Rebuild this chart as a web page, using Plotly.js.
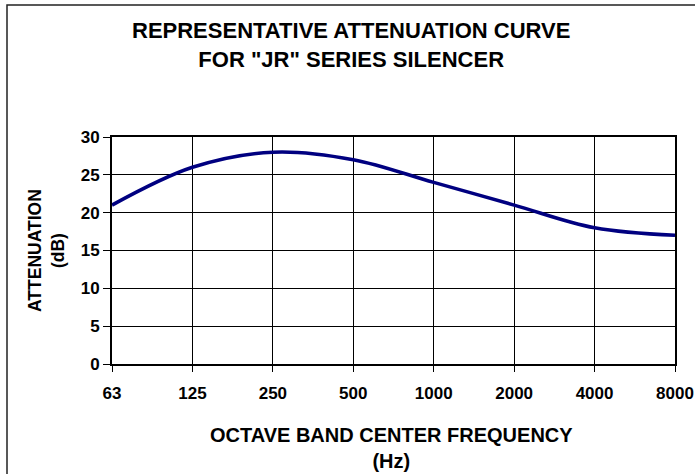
<!DOCTYPE html>
<html>
<head>
<meta charset="utf-8">
<script src="https://cdn.plot.ly/plotly-3.0.1.min.js"></script>
<style>
html,body{margin:0;padding:0;background:#fff;}
#chart{width:695px;height:474px;}
</style>
</head>
<body>
<div id="chart"></div>
<script>
// Data
const frequencies = ["63", "125", "250", "500", "1000", "2000", "4000", "8000"];
const attenuation = [21, 26, 28, 27, 24, 21, 18, 17];
const yTicks = [0, 5, 10, 15, 20, 25, 30];
const chartTitle = 'REPRESENTATIVE ATTENUATION CURVE<br>FOR "JR" SERIES SILENCER';
const xTitle = 'OCTAVE BAND CENTER FREQUENCY<br>(Hz)';
const yTitle = 'ATTENUATION<br>(dB)';

const FONT = "Liberation Sans, Arial, Helvetica, sans-serif";
const W = 695, H = 474;
const M = {l: 112, r: 20, t: 137, b: 110};
const pw = W - M.l - M.r, ph = H - M.t - M.b;
const px = x => (x - M.l) / pw;
const py = y => (H - M.b - y) / ph;

const trace = {
  x: frequencies,
  y: attenuation,
  type: 'scatter',
  mode: 'lines',
  line: {color: '#000080', width: 3.5, shape: 'spline', smoothing: 1},
  hoverinfo: 'skip'
};

const layout = {
  width: W, height: H,
  margin: M,
  paper_bgcolor: '#ffffff',
  plot_bgcolor: '#ffffff',
  showlegend: false,
  title: {text: ''},
  xaxis: {
    type: 'category',
    range: [0, frequencies.length - 1],
    showgrid: true, gridcolor: '#000', gridwidth: 1,
    showline: true, linecolor: '#000', linewidth: 2, mirror: true,
    ticks: 'outside', ticklen: 6, tickcolor: '#000', tickwidth: 1,
    ticklabelstandoff: 7,
    tickfont: {family: FONT, size: 17, color: '#000', weight: 'bold'},
    zeroline: false, fixedrange: true
  },
  yaxis: {
    range: [0, 30],
    tickvals: yTicks,
    showgrid: true, gridcolor: '#000', gridwidth: 1,
    showline: true, linecolor: '#000', linewidth: 2, mirror: true,
    ticks: 'outside', ticklen: 7, tickcolor: '#000', tickwidth: 1,
    tickfont: {family: FONT, size: 17, color: '#000', weight: 'bold'},
    zeroline: false, fixedrange: true
  },
  annotations: [
    {
      text: chartTitle,
      xref: 'paper', yref: 'paper',
      x: px(351), y: py(45), xanchor: 'center', yanchor: 'middle',
      showarrow: false,
      font: {family: FONT, size: 22, color: '#000', weight: 'bold'}
    },
    {
      text: xTitle,
      xref: 'paper', yref: 'paper',
      x: px(391), y: py(448), xanchor: 'center', yanchor: 'middle',
      showarrow: false,
      font: {family: FONT, size: 20, color: '#000', weight: 'bold'}
    },
    {
      text: yTitle,
      xref: 'paper', yref: 'paper',
      x: px(46), y: py(251), xanchor: 'center', yanchor: 'middle',
      textangle: -90, showarrow: false,
      font: {family: FONT, size: 17.5, color: '#000', weight: 'bold'}
    }
  ],
  shapes: [
    {
      type: 'rect', xref: 'paper', yref: 'paper',
      x0: px(7), x1: px(720), y0: py(500), y1: py(5),
      line: {color: '#222', width: 1.5}, fillcolor: 'rgba(0,0,0,0)', layer: 'below'
    }
  ]
};

Plotly.newPlot('chart', [trace], layout, {displayModeBar: false, staticPlot: true});
</script>
</body>
</html>
